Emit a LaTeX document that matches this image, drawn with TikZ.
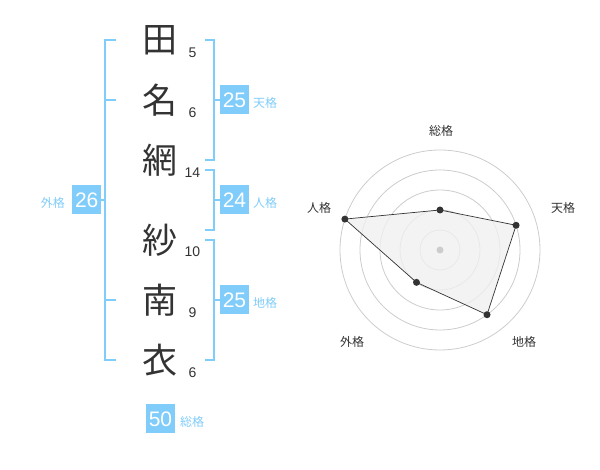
\documentclass[tikz,border=0pt]{standalone}
\usepackage{fontspec}
\setmainfont{Liberation Sans}
\newfontfamily\jp{Noto Sans CJK JP}
\usepackage{tikz}
\usetikzlibrary{positioning, calc}
\definecolor{kakublue}{RGB}{128,204,250}
\definecolor{inkgray}{RGB}{51,51,51}
\definecolor{ringgray}{RGB}{204,204,204}
\definecolor{areagray}{RGB}{240,240,240}

\begin{document}
\begin{tikzpicture}[
    x=1pt, y=1pt,
    kanji/.style={font=\jp\fontsize{35}{35}\selectfont, text=inkgray, inner sep=0pt},
    stroke/.style={font=\fontsize{14}{14}\selectfont, text=inkgray, inner sep=0pt},
    kakubox/.style={fill=kakublue, text=white, minimum size=29pt, inner sep=0pt, font=\fontsize{21}{21}\selectfont},
    kakulabel/.style={text=kakublue, inner sep=0pt, font=\jp\fontsize{12}{12}\selectfont},
    bracket/.style={draw=kakublue, line width=2pt},
    radarlabel/.style={text=inkgray, inner sep=0pt, font=\jp\fontsize{12}{12}\selectfont},
    ring/.style={draw=ringgray, line width=0.8pt},
    dot/.style={circle, fill=inkgray, minimum size=7pt, inner sep=0pt}
]
\useasboundingbox (0,0) rectangle (600,470);

% Name characters
\node[kanji] (c1) at (160,430) {田};
\node[kanji] (c2) at (160,370) {名};
\node[kanji] (c3) at (160,310) {網};
\node[kanji] (c4) at (160,230) {紗};
\node[kanji] (c5) at (160,170) {南};
\node[kanji] (c6) at (160,110) {衣};

% Stroke counts
\node[stroke] (n1) at (192.5,417.7) {5};
\node[stroke] (n2) at (192.5,357.3) {6};
\node[stroke] (n3) at (192.5,297) {14};
\node[stroke] (n4) at (192.5,218) {10};
\node[stroke] (n5) at (192.5,157.3) {9};
\node[stroke] (n6) at (192.5,97.3) {6};

% Boxes
\node[kakubox] (ten) at (234.5,370) {25};
\node[kakubox] (jin) at (234.5,270) {24};
\node[kakubox] (chi) at (234.5,170) {25};
\node[kakubox] (gai) at (86.7,270) {26};
\node[kakubox] (sou) at (160.5,51) {50};
\node[kakulabel, anchor=west] at (253,367) {天格};
\node[kakulabel, anchor=west] at (253,267) {人格};
\node[kakulabel, anchor=west] at (253,167) {地格};
\node[kakulabel, anchor=east] at (65,267) {外格};
\node[kakulabel, anchor=west] at (180,48) {総格};

% Brackets
\draw[bracket] (116,430) -- (105,430) -- (105,110) -- (116,110);
\draw[bracket] (116,370) -- (105,370);
\draw[bracket] (116,170) -- (105,170);
\draw[bracket] (105,270) -- (gai.east);
\draw[bracket] (205,430) -- (214,430) -- (214,310) -- (205,310);
\draw[bracket] (214,370) -- (ten.west);
\draw[bracket] (205,300) -- (214,300) -- (214,240) -- (205,240);
\draw[bracket] (214,270) -- (jin.west);
\draw[bracket] (205,230) -- (214,230) -- (214,110) -- (205,110);
\draw[bracket] (214,170) -- (chi.west);

% Radar chart
\coordinate (O) at (440,220);
\foreach \r in {20,40,60,80,100}
    \draw[ring] (O) circle (\r);
\coordinate (pSou) at ($(O)+(90:40)$);
\coordinate (pTen) at ($(O)+(18:80)$);
\coordinate (pChi) at ($(O)+(-54:80)$);
\coordinate (pGai) at ($(O)+(-126:40)$);
\coordinate (pJin) at ($(O)+(162:100)$);
\fill[areagray, opacity=0.8] (pSou) -- (pTen) -- (pChi) -- (pGai) -- (pJin) -- cycle;
\draw[inkgray, line width=0.7pt] (pSou) -- (pTen) -- (pChi) -- (pGai) -- (pJin) -- cycle;
\node[circle, fill=ringgray, minimum size=7pt, inner sep=0pt] (mid) at (O) {};
\foreach \p in {pSou,pTen,pChi,pGai,pJin}
    \node[dot] at (\p) {};
\node[radarlabel] (lSou) at (441,339) {総格};
\node[radarlabel] (lTen) at (563,262) {天格};
\node[radarlabel] (lChi) at (524,128) {地格};
\node[radarlabel] (lGai) at (352,128) {外格};
\node[radarlabel] (lJin) at (319,262) {人格};

\end{tikzpicture}
\end{document}
